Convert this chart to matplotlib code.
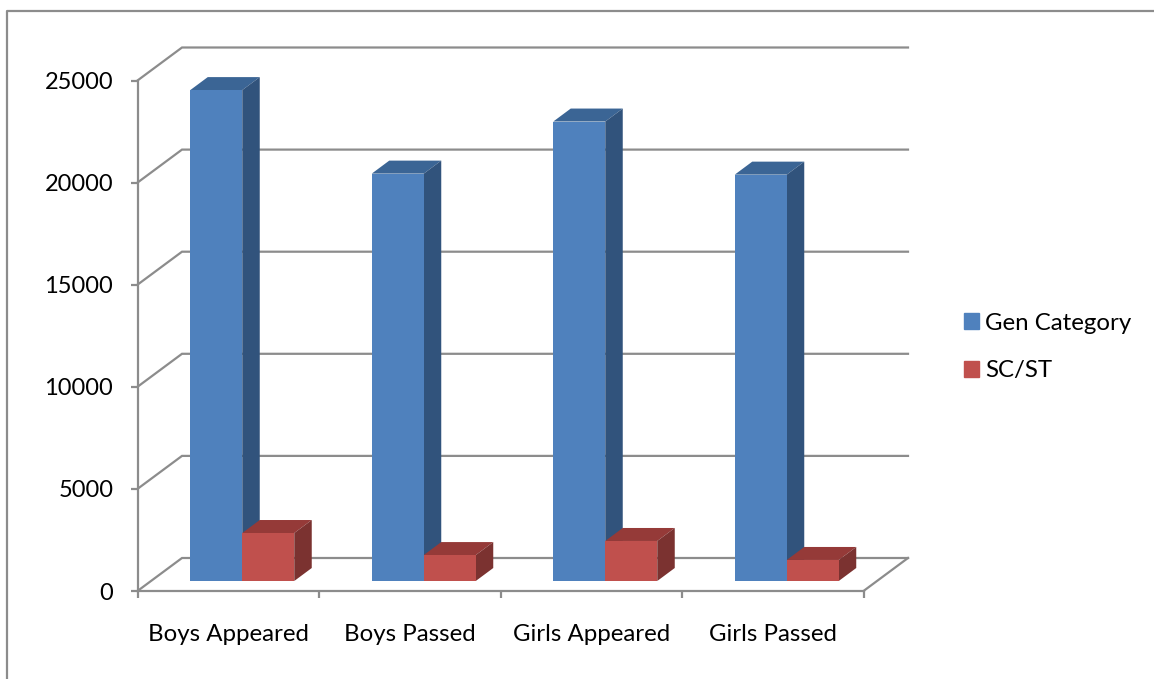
import matplotlib
matplotlib.use("Agg")
from matplotlib import pyplot as plt
from matplotlib.lines import Line2D
from matplotlib.patches import Polygon

categories = ["Boys Appeared", "Boys Passed", "Girls Appeared", "Girls Passed"]
gen_category = [24040, 19950, 22500, 19900]
sc_st = [2350, 1270, 1960, 1030]
y_ticks = [0, 5000, 10000, 15000, 20000, 25000]

W, H = 1154, 679
grey = "#8c8c8c"
plt.rcParams["font.family"] = ["Lato", "DejaVu Sans"]

fig = plt.figure(figsize=(W / 100, H / 100), dpi=100)
# front plane of the fake 3d box, in pixels
left, right, bottom, top = 137.5, 863.5, 591, 80.5
ax = fig.add_axes([left / W, 1 - bottom / H, (right - left) / W, (bottom - top) / H])
ax.set_xlim(0, 4)
ax.set_ylim(0, 25000)

px = 4 / (right - left)
py = 25000 / (bottom - top)
wall_dx, wall_dy = 44.5 * px, 33 * py
bar_dx, bar_dy = 17.5 * px, 13 * py
base = 10 * py
shift = 14 * px
bar_w = 52 * px

# back wall and floor
for v in y_ticks:
    ax.plot([0, wall_dx, 4 + wall_dx], [v, v + wall_dy, v + wall_dy],
            color=grey, lw=1.6, clip_on=False, zorder=1, solid_joinstyle="miter")
ax.plot([4, 4 + wall_dx], [0, wall_dy], color=grey, lw=1.6, clip_on=False, zorder=1)


def draw_bar(x, v, front, upper, side, z):
    ax.bar(x, v, bar_w, bottom=base, align="edge", color=front, clip_on=False, zorder=z + 0.2)
    y0, y1 = base, base + v
    x1 = x + bar_w
    ax.add_patch(Polygon([(x, y1), (x1, y1), (x1 + bar_dx, y1 + bar_dy), (x + bar_dx, y1 + bar_dy)],
                         color=upper, lw=0, clip_on=False, zorder=z))
    ax.add_patch(Polygon([(x1, y0), (x1 + bar_dx, y0 + bar_dy), (x1 + bar_dx, y1 + bar_dy), (x1, y1)],
                         color=side, lw=0, clip_on=False, zorder=z + 0.1))


for i in range(len(categories)):
    x = i + 0.5 + shift
    draw_bar(x - bar_w, gen_category[i], "#4f81bd", "#3b6595", "#31537c", 3)
    draw_bar(x, sc_st[i], "#c0504d", "#953a38", "#7b3230", 4)

for s in ["top", "right"]:
    ax.spines[s].set_visible(False)
for s in ["left", "bottom"]:
    ax.spines[s].set_color(grey)
    ax.spines[s].set_linewidth(1.6)
    ax.spines[s].set_zorder(2)

ax.set_yticks(y_ticks)
ax.set_yticklabels([str(v) for v in y_ticks])
ax.set_xticks(range(5))
ax.set_xticklabels([])
ax.set_xticks([i + 0.5 for i in range(4)], categories, minor=True)
ax.tick_params(axis="both", which="major", color=grey, width=1.6, length=5)
ax.tick_params(axis="y", labelsize=17, pad=12.5)
ax.tick_params(axis="x", which="minor", length=0, labelsize=17.3, pad=23.5)

handles = [plt.Rectangle((0, 0), 1, 1, color="#4f81bd"), plt.Rectangle((0, 0), 1, 1, color="#c0504d")]
fig.legend(handles, ["Gen Category", "SC/ST"], loc="center left",
           bbox_to_anchor=(942 / W, 1 - 347 / H), frameon=False, fontsize=17.3,
           handlelength=0.64, handleheight=0.64, handletextpad=0.25, labelspacing=1.12)

# outer frame of the pasted picture
fig.add_artist(Line2D([7 / W, 7 / W, 1], [0, 1 - 11 / H, 1 - 11 / H], color=grey, lw=1.6))

fig.savefig("out.png", dpi=100)
